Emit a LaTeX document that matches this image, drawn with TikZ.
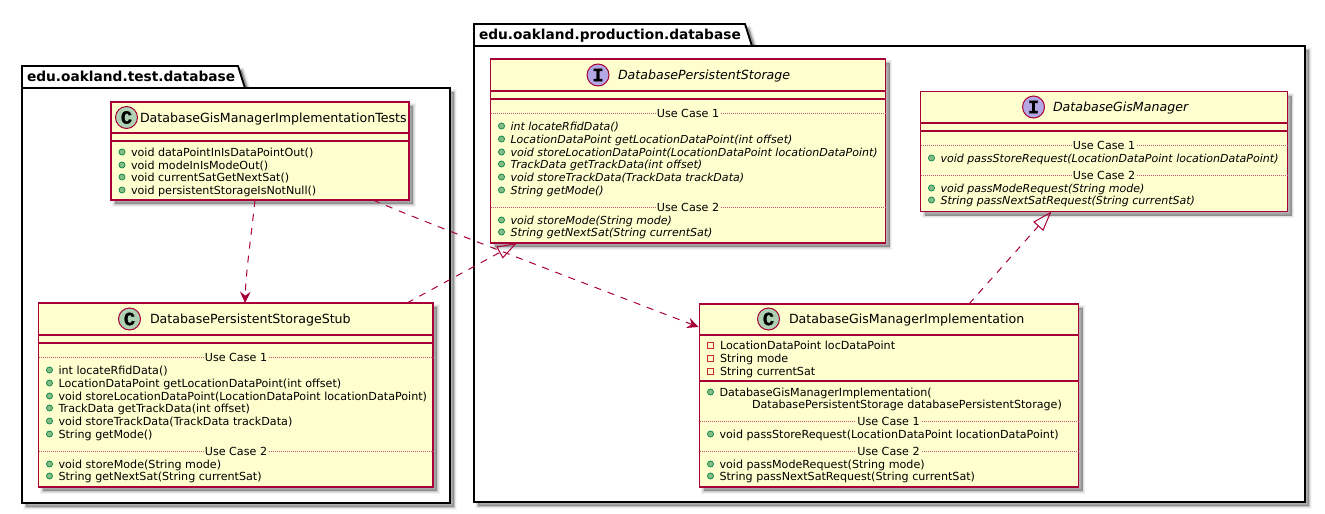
\documentclass[tikz,border=0pt]{standalone}
\usepackage{fontspec}
\setmainfont{DejaVu Sans}
\newfontfamily\glyphfont[BoldFeatures={FakeBold=1.5}]{Liberation Mono}
\usetikzlibrary{calc,arrows.meta}
\definecolor{umlred}{HTML}{A80036}
\definecolor{umlfill}{HTML}{FEFECE}
\definecolor{cgreen}{HTML}{ADD1B2}
\definecolor{ipurple}{HTML}{B4A7E5}
\definecolor{pubfill}{HTML}{84BE84}
\definecolor{publine}{HTML}{038048}
\definecolor{privline}{HTML}{C82930}
\newcounter{umlnode}
\tikzset{
  x=0.75pt,y=-0.75pt,
  softshadow/.style={
    preaction={draw=black,line width=4pt,draw opacity=.05,fill=black,fill opacity=.05,transform canvas={shift={(4,4)}}},
    preaction={draw=black,line width=2.6pt,draw opacity=.07,fill=black,fill opacity=.07,transform canvas={shift={(4,4)}}},
    preaction={draw=black,line width=1.3pt,draw opacity=.09,fill=black,fill opacity=.09,transform canvas={shift={(4,4)}}},
    preaction={draw=none,fill=black,fill opacity=.12,transform canvas={shift={(4,4)}}}},
  classbox/.style={rectangle,draw=umlred,fill=umlfill,line width=.95pt,inner sep=0pt,outer sep=0pt,anchor=north west,softshadow},
  pkgline/.style={draw=black,line width=1.4pt,line join=miter},
  divider/.style={draw=umlred,line width=.95pt},
  sepline/.style={draw=umlred!65,line width=.5pt,dash pattern=on .75pt off .75pt},
  rowtext/.style={inner sep=0pt,outer sep=0pt,font=\fontsize{8.35}{10}\selectfont,text=black},
  seplabel/.style={rowtext,fill=umlfill,inner xsep=1pt,inner ysep=1pt},
  titletext/.style={inner sep=0pt,outer sep=0pt,font=\fontsize{9.45}{12}\selectfont,text=black},
  pkgtitle/.style={inner sep=0pt,outer sep=0pt,font=\bfseries\fontsize{10.3}{12}\selectfont,text=black},
  pubdot/.style={circle,draw=publine,fill=pubfill,line width=.5pt,minimum size=4.6pt,inner sep=0pt},
  privdot/.style={rectangle,draw=privline,fill=none,line width=.6pt,minimum size=4.6pt,inner sep=0pt},
  badge/.style={circle,draw=umlred,line width=.75pt,minimum size=16.5pt,inner sep=0pt,font=\glyphfont\bfseries\fontsize{14}{14}\selectfont},
  deparrow/.style={draw=umlred,line width=.75pt,dash pattern=on 5.25pt off 5.25pt,-{Stealth[length=8.5pt,width=8pt,inset=3pt]}},
  implarrow/.style={draw=umlred,line width=.75pt,dash pattern=on 5.25pt off 5.25pt,-{Triangle[open,length=15pt,width=10pt,fill=none]}},
}
\newcommand\umlbox[5]{%
  \pgfmathsetlengthmacro\umlw{(#4-#2)*0.75pt}%
  \pgfmathsetlengthmacro\umlh{(#5-#3)*0.75pt}%
  \node[classbox,minimum width=\umlw,minimum height=\umlh] (#1) at (#2,#3) {};}
\newcommand\umlpub[3]{\stepcounter{umlnode}%
  \node[pubdot] (d\arabic{umlnode}) at (#1,#2) {};
  \node[rowtext,anchor=base west] (r\arabic{umlnode}) at (#1+9,#2+4) {#3};}
\newcommand\umlital[3]{\stepcounter{umlnode}%
  \node[pubdot] (d\arabic{umlnode}) at (#1,#2) {};
  \node[rowtext,anchor=base west,font=\itshape\fontsize{8.28}{10}\selectfont] (r\arabic{umlnode}) at (#1+9,#2+4) {#3};}
\newcommand\umlpriv[3]{\stepcounter{umlnode}%
  \node[privdot] (d\arabic{umlnode}) at (#1,#2) {};
  \node[rowtext,anchor=base west] (r\arabic{umlnode}) at (#1+10,#2+4) {#3};}
\newcommand\umlsep[5]{\stepcounter{umlnode}%
  \draw[sepline] (#1,#3) -- (#2,#3);
  \node[seplabel,anchor=base] (s\arabic{umlnode}) at (#4,#3+4) {Use Case #5};}
\begin{document}
\begin{tikzpicture}
\useasboundingbox (0,0) rectangle (1325,514);
% packages
\path[pkgline,fill=white,softshadow] (22,88) -- (22,66) -- (238,66) -- (245,88) -- (450,88) -- (450,503) -- (22,503) -- cycle;
\draw[pkgline] (22,88) -- (245,88);
\node[pkgtitle,anchor=base west] (pkgtest) at (27,81) {edu.oakland.test.database};
\path[pkgline,fill=white,softshadow] (474,46) -- (474,24) -- (745,24) -- (752,46) -- (1305,46) -- (1305,502) -- (474,502) -- cycle;
\draw[pkgline] (474,46) -- (752,46);
\node[pkgtitle,anchor=base west] (pkgprod) at (479,39) {edu.oakland.production.database};

% DatabaseGisManagerImplementationTests
\umlbox{tests}{111}{102}{409}{200}
\draw[divider] (111,133) -- (409,133);
\draw[divider] (111,141) -- (409,141);
\node[badge,fill=cgreen] (testsbadge) at (126.5,117.5) {C};
\node[titletext,anchor=base west] (teststitle) at (140,122.5) {DatabaseGisManagerImplementationTests};
\umlpub{122}{152}{void dataPointInIsDataPointOut()}
\umlpub{122}{165}{void modeInIsModeOut()}
\umlpub{122}{177}{void currentSatGetNextSat()}
\umlpub{122}{190}{void persistentStorageIsNotNull()}

% DatabasePersistentStorageStub
\umlbox{stub}{38.5}{303}{433}{487}
\draw[divider] (38.5,335) -- (433,335);
\draw[divider] (38.5,343) -- (433,343);
\node[badge,fill=cgreen] (stubbadge) at (129.5,319) {C};
\node[titletext,anchor=base west] (stubtitle) at (150,323.5) {DatabasePersistentStorageStub};
\umlsep{38.5}{433}{357}{236}{1}
\umlpub{49.5}{370}{int locateRfidData()}
\umlpub{49.5}{383}{LocationDataPoint getLocationDataPoint(int offset)}
\umlpub{49.5}{396}{void storeLocationDataPoint(LocationDataPoint locationDataPoint)}
\umlpub{49.5}{408}{TrackData getTrackData(int offset)}
\umlpub{49.5}{421}{void storeTrackData(TrackData trackData)}
\umlpub{49.5}{434}{String getMode()}
\umlsep{38.5}{433}{451}{236}{2}
\umlpub{49.5}{464}{void storeMode(String mode)}
\umlpub{49.5}{476}{String getNextSat(String currentSat)}

% DatabasePersistentStorage
\umlbox{dps}{490.5}{59}{885.5}{243}
\draw[divider] (490.5,91) -- (885.5,91);
\draw[divider] (490.5,99) -- (885.5,99);
\node[badge,fill=ipurple] (dpsbadge) at (598,75) {I};
\node[titletext,anchor=base west,font=\itshape\fontsize{9.45}{12}\selectfont] (dpstitle) at (618,79.5) {DatabasePersistentStorage};
\umlsep{490.5}{885.5}{113}{688}{1}
\umlital{501.5}{126}{int locateRfidData()}
\umlital{501.5}{139}{LocationDataPoint getLocationDataPoint(int offset)}
\umlital{501.5}{152}{void storeLocationDataPoint(LocationDataPoint locationDataPoint)}
\umlital{501.5}{164}{TrackData getTrackData(int offset)}
\umlital{501.5}{177}{void storeTrackData(TrackData trackData)}
\umlital{501.5}{190}{String getMode()}
\umlsep{490.5}{885.5}{207}{688}{2}
\umlital{501.5}{220}{void storeMode(String mode)}
\umlital{501.5}{232}{String getNextSat(String currentSat)}

% DatabaseGisManager
\umlbox{dgm}{920.5}{91.5}{1287.5}{211.5}
\draw[divider] (920.5,123) -- (1287.5,123);
\draw[divider] (920.5,131) -- (1287.5,131);
\node[badge,fill=ipurple] (dgmbadge) at (1033.5,107) {I};
\node[titletext,anchor=base west,font=\itshape\fontsize{9.45}{12}\selectfont] (dgmtitle) at (1053,111.5) {DatabaseGisManager};
\umlsep{920.5}{1287.5}{145}{1104}{1}
\umlital{931.5}{158}{void passStoreRequest(LocationDataPoint locationDataPoint)}
\umlsep{920.5}{1287.5}{175}{1104}{2}
\umlital{931.5}{188}{void passModeRequest(String mode)}
\umlital{931.5}{200}{String passNextSatRequest(String currentSat)}

% DatabaseGisManagerImplementation
\umlbox{impl}{699.5}{304}{1078.5}{487}
\draw[divider] (699.5,335) -- (1078.5,335);
\draw[divider] (699.5,381) -- (1078.5,381);
\node[badge,fill=cgreen] (implbadge) at (768.5,319) {C};
\node[titletext,anchor=base west] (impltitle) at (789,323.5) {DatabaseGisManagerImplementation};
\umlpriv{710}{345}{LocationDataPoint locDataPoint}
\umlpriv{710}{358}{String mode}
\umlpriv{710}{371}{String currentSat}
\umlpub{710.5}{392}{DatabaseGisManagerImplementation(}
\node[rowtext,anchor=base west] (implctor) at (752,408) {DatabasePersistentStorage databasePersistentStorage)};
\umlsep{699.5}{1078.5}{421}{888.5}{1}
\umlpub{710.5}{434}{void passStoreRequest(LocationDataPoint locationDataPoint)}
\umlsep{699.5}{1078.5}{451}{888.5}{2}
\umlpub{710.5}{464}{void passModeRequest(String mode)}
\umlpub{710.5}{476}{String passNextSatRequest(String currentSat)}

% connectors
\draw[deparrow] ($(tests.south west)+(144,0)$) .. controls ($(tests.south west)+(141,30)$) and ($(stub.north west)+(207.5,-33)$) .. ($(stub.north west)+(206.5,0)$);
\draw[deparrow] ($(tests.south west)+(262,0)$) .. controls ($(tests.south west)+(310,21)$) and ($(impl.north west)+(-100,-15)$) .. ($(impl.north west)+(-1,23)$);
\draw[implarrow] ($(stub.north west)+(368.5,0)$) -- ($(dps.south west)+(26.5,0)$);
\draw[implarrow] ($(impl.north west)+(269.5,0)$) .. controls ($(impl.north west)+(290,-23)$) and ($(dgm.south west)+(105,29)$) .. ($(dgm.south west)+(131,0)$);
\end{tikzpicture}
\end{document}
